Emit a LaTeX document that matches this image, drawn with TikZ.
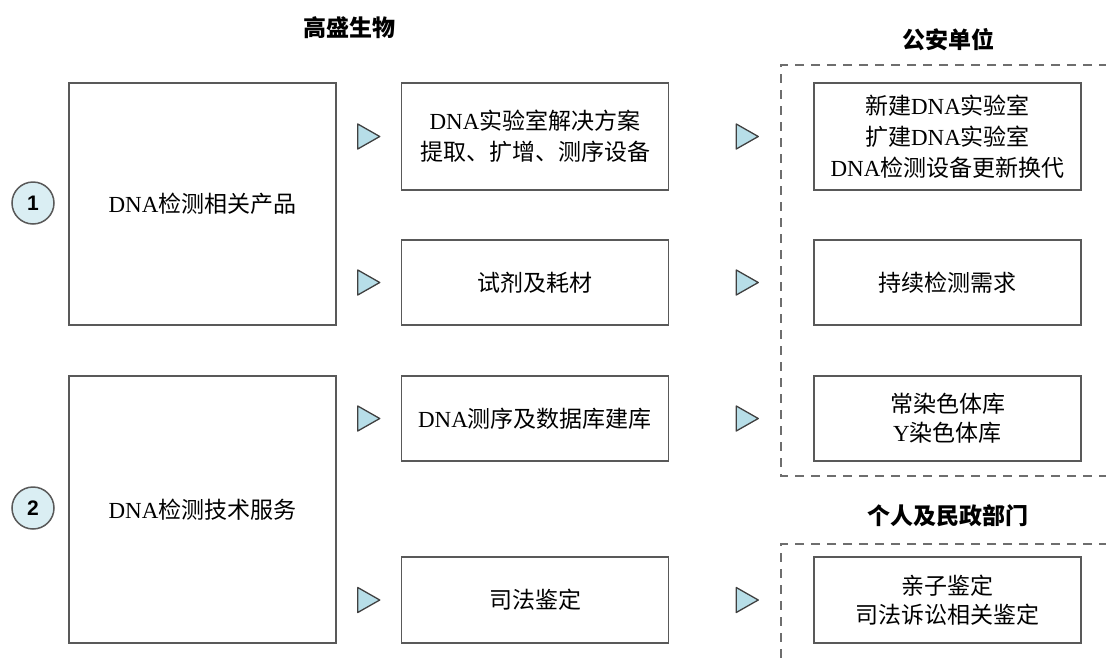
\documentclass[tikz,border=0pt]{standalone}
\usepackage{fontspec}
\setmainfont{Liberation Serif}
\newfontfamily\cjk{Noto Sans CJK SC}
\newfontfamily\digitfont{Liberation Sans}
\usetikzlibrary{positioning}
\definecolor{boxgray}{HTML}{595959}
\definecolor{dashgray}{HTML}{6E6E6E}
\definecolor{circfill}{HTML}{DAEEF3}
\definecolor{trifill}{HTML}{B7DEE8}
\newcommand\dna{{\rmfamily DNA}}
\tikzset{
  % plain boxes of the three columns
  box/.style={draw=boxgray, line width=1.5pt, rectangle, minimum width=267pt,
    align=center, font=\cjk\fontsize{23}{31}\selectfont},
  head/.style={font=\cjk\bfseries\fontsize{23}{26}\selectfont},
  num/.style={circle, draw=boxgray, line width=1.5pt, fill=circfill,
    minimum size=42pt, inner sep=0pt, font=\digitfont\bfseries\fontsize{21}{24}\selectfont},
  dashbox/.style={draw=dashgray, line width=2pt, dash pattern=on 9pt off 7pt},
  tri/.style={draw=black!75, line width=1.3pt, fill=trifill, line join=round},
  play/.pic={\draw[tri] (-11,-12.5) -- (11,0) -- (-11,12.5) -- cycle;}}

\begin{document}
\begin{tikzpicture}[x=1pt, y=-1pt]
\useasboundingbox (0,0) rectangle (1106,659);

% headers
\node[head] (gs) at (349,28) {高盛生物};
\node[head] (ga) at (948,40) {公安单位};
\node[head] (gr) at (948,516) {个人及民政部门};

% dashed groups, open to the right
\draw[dashbox] (1140,65) -- (781,65) -- (781,476) -- (1140,476);
\draw[dashbox] (1140,544) -- (781,544) -- (781,700);

% numbers
\node[num] (n1) at (33,203) {1};
\node[num] (n2) at (33,508) {2};

% left column
\node[box, minimum height=242pt] (prod) at (202.5,204) {\dna 检测相关产品};
\node[box, minimum height=267pt] (serv) at (202.5,509.5) {\dna 检测技术服务};

% middle column
\node[box, minimum height=107pt] (sol) at (535,136.5) {\dna 实验室解决方案\\提取、扩增、测序设备};
\node[box, minimum height=85pt] (reag) at (535,282.5) {试剂及耗材};
\node[box, minimum height=85pt] (seq) at (535,418.5) {\dna 测序及数据库建库};
\node[box, minimum height=86pt] (jud) at (535,600) {司法鉴定};

% right column
\node[box, minimum height=107pt] (lab) at (947.5,136.5) {新建\dna 实验室\\扩建\dna 实验室\\\dna 检测设备更新换代};
\node[box, minimum height=85pt, font=\cjk\fontsize{23}{29}\selectfont] (need) at (947.5,282.5) {持续检测需求};
\node[box, minimum height=85pt, font=\cjk\fontsize{23}{29}\selectfont] (lib) at (947.5,418.5) {常染色体库\\{\rmfamily Y}染色体库};
\node[box, minimum height=86pt, font=\cjk\fontsize{23}{29}\selectfont] (pat) at (947.5,600) {亲子鉴定\\司法诉讼相关鉴定};

% markers between the columns
\foreach \a/\b in {prod/sol, prod/reag, serv/seq, serv/jud}
  \path (\a.east |- \b.west) -- coordinate[pos=0.5] (m) (\b.west) (m) pic {play};
\foreach \b in {sol, reag, seq, jud}
  \path (\b.east) ++(78,0) pic {play};

\end{tikzpicture}
\end{document}
